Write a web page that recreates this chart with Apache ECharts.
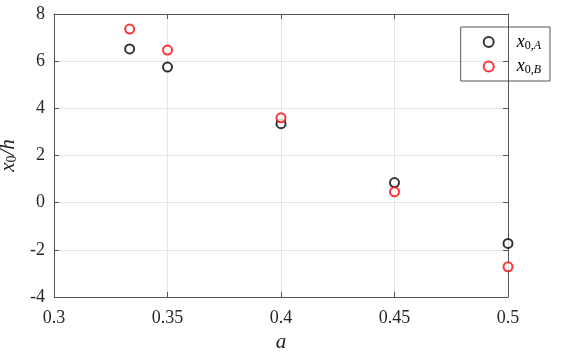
<!DOCTYPE html>
<html>
<head>
<meta charset="utf-8">
<script src="https://cdn.jsdelivr.net/npm/echarts@6/dist/echarts.min.js"></script>
<style>html,body{margin:0;padding:0;background:#fff}#main{width:581px;height:355px}</style>
</head>
<body>
<div id="main"></div>
<script>
var aVals = [1/3, 0.35, 0.4, 0.45, 0.5];
var x0A = [6.52, 5.75, 3.35, 0.85, -1.73];
var x0B = [7.36, 6.47, 3.60, 0.46, -2.72];
var xTicks = [0.3, 0.35, 0.4, 0.45, 0.5];
var yTicks = [-4, -2, 0, 2, 4, 6, 8];

function pairs(xs, ys) { return xs.map(function (x, i) { return [x, ys[i]]; }); }

var chart = echarts.init(document.getElementById('main'));
var serif = "'Liberation Serif', 'Times New Roman', serif";
var axisCol = '#555';
var rich = {
  i: { fontFamily: serif, fontStyle: 'italic', fontSize: 21, color: '#222' },
  s: { fontFamily: serif, fontSize: 14, color: '#222', verticalAlign: 'bottom', padding: [8, 0, 0, 0] },
  li: { fontFamily: serif, fontStyle: 'italic', fontSize: 18, color: '#000' },
  ls: { fontFamily: serif, fontSize: 12, color: '#000', verticalAlign: 'bottom', padding: [7, 0, 0, 0] },
  lsi: { fontFamily: serif, fontStyle: 'italic', fontSize: 12, color: '#000', verticalAlign: 'bottom', padding: [7, 0, 0, 0] }
};

var option = {
  animation: false,
  grid: { left: 54, right: 73, top: 14, bottom: 58, containLabel: false, outerBoundsMode: 'none' },
  legend: {
    right: 31, top: 27,
    orient: 'vertical',
    borderColor: axisCol, borderWidth: 1,
    padding: [6, 9, 5, 22],
    itemWidth: 14, itemHeight: 10, itemGap: 6,
    textStyle: { rich: rich, padding: [0, 0, 0, 16] },
    formatter: function (n) {
      return n === 'A' ? '{li|x}{ls|0,}{lsi|A}' : '{li|x}{ls|0,}{lsi|B}';
    },
    data: ['A', 'B']
  },
  xAxis: [{
    type: 'value', min: 0.3, max: 0.5, interval: 0.05,
    name: '{i|a}', nameLocation: 'middle', nameGap: 35,
    nameTextStyle: { rich: rich },
    axisLine: { onZero: false, lineStyle: { color: axisCol } },
    axisTick: { inside: true, length: 5, lineStyle: { color: axisCol } },
    axisLabel: { fontFamily: serif, fontSize: 18, color: '#262626', margin: 12,
      formatter: function (v) { return String(+v.toFixed(2)); } },
    splitLine: { show: true, lineStyle: { color: '#e6e6e6' } }
  }, {
    type: 'value', position: 'top', min: 0.3, max: 0.5, interval: 0.05,
    axisLine: { onZero: false, lineStyle: { color: axisCol } },
    axisTick: { inside: true, length: 5, lineStyle: { color: axisCol } },
    axisLabel: { show: false }, splitLine: { show: false }
  }],
  yAxis: [{
    type: 'value', min: -4, max: 8, interval: 2,
    name: '{i|x}{s|0}{i|/h}', nameLocation: 'middle', nameGap: 25,
    nameTextStyle: { rich: rich },
    axisLine: { show: true, onZero: false, lineStyle: { color: axisCol } },
    axisTick: { show: true, inside: true, length: 5, lineStyle: { color: axisCol } },
    axisLabel: { fontFamily: serif, fontSize: 18, color: '#262626', margin: 9 },
    splitLine: { show: true, lineStyle: { color: '#e6e6e6' } }
  }, {
    type: 'value', position: 'right', min: -4, max: 8, interval: 2,
    axisLine: { show: true, onZero: false, lineStyle: { color: axisCol } },
    axisTick: { show: true, inside: true, length: 5, lineStyle: { color: axisCol } },
    axisLabel: { show: false }, splitLine: { show: false }
  }],
  series: [{
    name: 'A', type: 'scatter', symbol: 'emptyCircle', symbolSize: 9,
    itemStyle: { color: '#000', borderColor: '#000', borderWidth: 1.2 },
    data: pairs(aVals, x0A)
  }, {
    name: 'B', type: 'scatter', symbol: 'emptyCircle', symbolSize: 9,
    itemStyle: { color: '#ff0000', borderColor: '#ff0000', borderWidth: 1.2 },
    data: pairs(aVals, x0B)
  }]
};
chart.setOption(option);
</script>
</body>
</html>
